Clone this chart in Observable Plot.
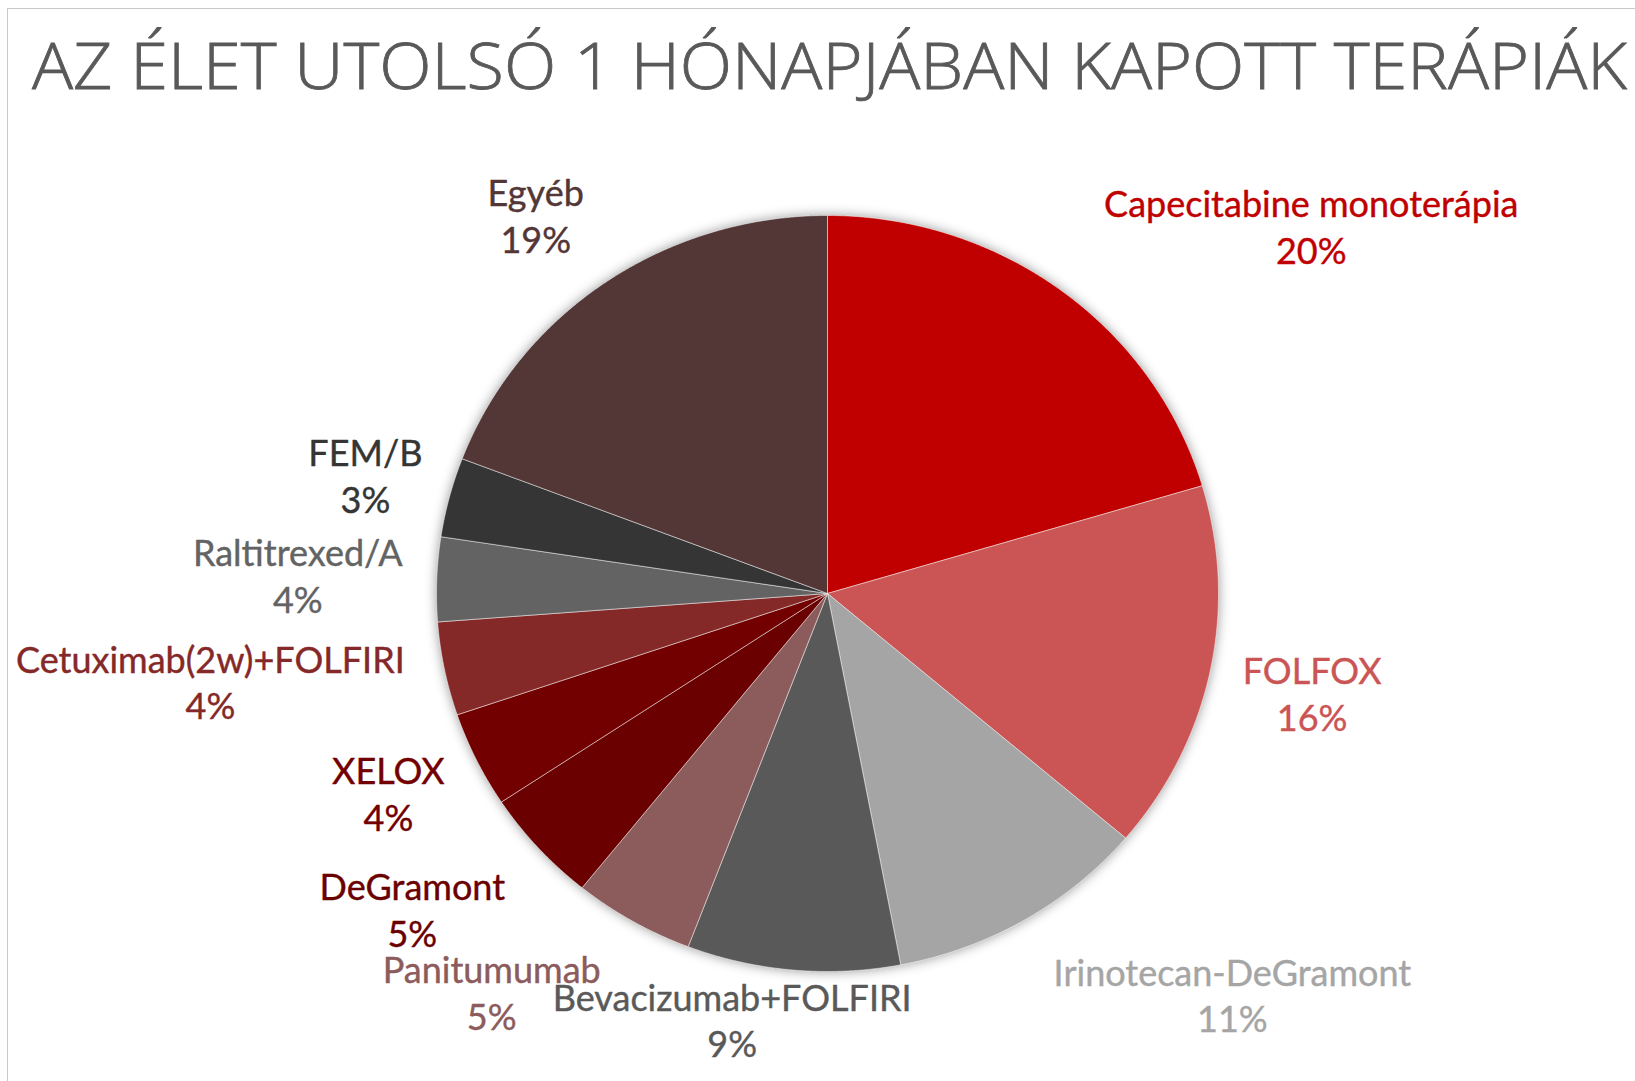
<!DOCTYPE html>
<html>
<head>
<meta charset="utf-8">
<script src="https://cdn.jsdelivr.net/npm/d3@7"></script>
<script src="https://cdn.jsdelivr.net/npm/@observablehq/plot@0.6"></script>
<style>
  html, body { margin: 0; padding: 0; background: #ffffff; }
  #wrap { position: relative; width: 1635px; height: 1081px; overflow: hidden; background: #fff; }
  #frame { position: absolute; left: 7px; top: 8px; width: 1700px; height: 1200px;
           border-left: 1.5px solid #c9c9c9; border-top: 1.5px solid #c9c9c9; }
  #chart { position: absolute; left: 0; top: 0; }
  #title { position: absolute; left: 0; top: 0; }
</style>
</head>
<body>
<div id="wrap">
  <div id="frame"></div>
  <div id="chart"></div>
  <svg id="title" width="1635" height="110">
    <text x="32" y="89" textLength="1595" lengthAdjust="spacingAndGlyphs"
          font-family="'Open Sans', Lato, sans-serif" font-weight="300" font-size="64" fill="#595959"
          stroke="#595959" stroke-width="0.8">AZ ÉLET UTOLSÓ 1 HÓNAPJÁBAN KAPOTT TERÁPIÁK</text>
  </svg>
</div>
<script>
// ---- data ----
const categories = [
  "Capecitabine monoterápia", "FOLFOX", "Irinotecan-DeGramont", "Bevacizumab+FOLFIRI",
  "Panitumumab", "DeGramont", "XELOX", "Cetuximab(2w)+FOLFIRI", "Raltitrexed/A", "FEM/B", "Egyéb"
];
const shares = [20.4, 15.8, 10.8, 8.8, 5.0, 4.9, 4.1, 4.0, 3.6, 3.4, 19.2];

// ---- styles / layout ----
const sliceColors = [
  "#c00000", "#cb5454", "#a5a5a5", "#595959", "#8c5b5b", "#6a0000",
  "#730000", "#852828", "#636363", "#353535", "#533636"
];
// pixel nudges of each label block from the slice's outer mid-point
const labelNudge = [
  [250, -65], [102, 21], [208, 74], [-61, 49], [-141, 70], [-126, 61],
  [-88, 33], [-234, 12], [-139, -5], [-84, -23], [-70, -68]
];

const total = d3.sum(shares);
const arcs = d3.pie().sort(null).value(d => d)(shares);

// polygon outline of every slice in unit-circle coordinates
const slicePts = [];
arcs.forEach((a, i) => {
  const name = categories[i];
  slicePts.push({name, x: 0, y: 0});
  const n = Math.max(2, Math.ceil((a.endAngle - a.startAngle) / (Math.PI / 720)));
  for (let k = 0; k <= n; k++) {
    const t = a.startAngle + (a.endAngle - a.startAngle) * k / n;
    slicePts.push({name, x: Math.sin(t), y: Math.cos(t)});
  }
  slicePts.push({name, x: 0, y: 0});
});

const labels = arcs.map((a, i) => {
  const m = (a.startAngle + a.endAngle) / 2;
  return {
    name: categories[i],
    x: Math.sin(m),
    y: Math.cos(m),
    text: `${categories[i]}\n${Math.round(shares[i] / total * 100)}%`
  };
});

const W = 1635, H = 1081, cx = 827, cy = 593, rx = 391, ry = 378;

const marks = [
  Plot.line(slicePts, {
    x: "x", y: "y", z: "name", fill: "name",
    stroke: "#ffffff", strokeWidth: 0.7, strokeOpacity: 0.7, curve: "linear",
    imageFilter: "drop-shadow(0px 0px 6px rgba(0,0,0,0.4))"
  })
];
labels.forEach((d, i) => {
  marks.push(Plot.text([d], {
    x: "x", y: "y", text: "text", fill: "name",
    dx: labelNudge[i][0], dy: labelNudge[i][1],
    textAnchor: "middle", lineAnchor: "middle", lineHeight: 1.3,
    fontSize: 36, fontFamily: "Lato, 'Open Sans', sans-serif",
    stroke: "name", strokeWidth: 0.4
  }));
});

const chart = Plot.plot({
  width: W, height: H, margin: 0,
  x: {domain: [-cx / rx, (W - cx) / rx], axis: null},
  y: {domain: [-(H - cy) / ry, cy / ry], axis: null},
  color: {domain: categories, range: sliceColors},
  style: {background: "transparent", overflow: "visible"},
  marks
});
document.getElementById("chart").appendChild(chart);
</script>
</body>
</html>
